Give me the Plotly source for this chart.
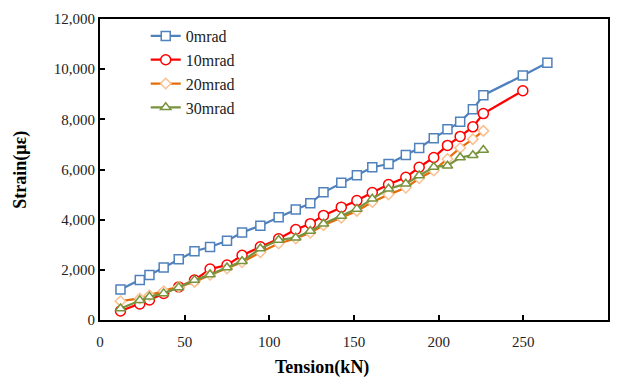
import plotly.graph_objects as go

tension = [12.1, 23.5, 29.2, 37.6, 46.5, 55.8, 65.0, 75.0, 83.9, 94.7, 105.5, 115.6, 124.2,
           132.0, 142.5, 151.7, 160.8, 170.4, 180.6, 188.5, 197.1, 205.2, 212.7, 220.2, 226.4]

tension_0 = tension + [249.7, 264.2]
strain_0 = [1220, 1590, 1790, 2090, 2420, 2740, 2910, 3160, 3490, 3760, 4100, 4410, 4650,
            5090, 5470, 5770, 6090, 6220, 6580, 6860, 7250, 7600, 7900, 8400, 8960, 9750, 10260]

tension_10 = tension + [249.7]
strain_10 = [360, 640, 800, 1060, 1320, 1590, 2030, 2190, 2580, 2920, 3240, 3610, 3840,
             4170, 4500, 4760, 5080, 5400, 5690, 6090, 6480, 6960, 7320, 7700, 8230, 9140]

tension_20 = tension
strain_20 = [750, 860, 990, 1150, 1320, 1520, 1800, 2050, 2300, 2700, 3050, 3250, 3480,
             3780, 4080, 4350, 4700, 5000, 5270, 5650, 5960, 6420, 6860, 7210, 7540]

tension_30 = tension
strain_30 = [460, 790, 925, 1060, 1300, 1590, 1810, 2090, 2340, 2850, 3190, 3280, 3550,
             3840, 4150, 4430, 4830, 5230, 5430, 5760, 6100, 6150, 6480, 6570, 6780]

names = ["0mrad", "10mrad", "20mrad", "30mrad"]
x_title = "Tension(kN)"
y_title = "Strain(με)"

FONT = "Liberation Serif"

fig = go.Figure()

series = [
    (tension_0, strain_0, names[0], "#4F81BD", "square", "#4F81BD", 9),
    (tension_10, strain_10, names[1], "#FF0000", "circle", "#FF0000", 10),
    (tension_20, strain_20, names[2], "#E46C0A", "diamond", "#FAC090", 8),
    (tension_30, strain_30, names[3], "#77933C", "triangle-up", "#77933C", 9),
]

for i, (xs, ys, nm, lc, sym, mc, ms) in enumerate(series):
    fig.add_trace(go.Scatter(
        x=xs, y=ys, name=nm, mode="lines+markers",
        line=dict(color=lc, width=2.25),
        marker=dict(symbol=sym, size=ms, color="white", line=dict(color=mc, width=1.5)),
        legendgroup=f"g{i}",
    ))

axis_common = dict(
    showline=True, linecolor="black", linewidth=2, mirror=True,
    ticks="inside", ticklen=5, tickwidth=1.5, tickcolor="black",
    showgrid=False, zeroline=False,
    tickfont=dict(family=FONT, size=15, color="#222"),
)

fig.update_xaxes(range=[0, 300], dtick=50, tick0=0, ticklabelstandoff=7, **axis_common)
fig.update_yaxes(range=[0, 12000], dtick=2000, tick0=0, tickformat=",", **axis_common)

fig.add_annotation(text=f"<b>{x_title}</b>", xref="paper", yref="paper", x=0.437, y=-0.158,
                   yanchor="middle", xanchor="center", showarrow=False,
                   font=dict(family=FONT, size=18, color="black"))
fig.add_annotation(text=f"<b>{y_title}</b>", xref="paper", yref="paper", x=-0.157, y=0.5,
                   yanchor="middle", xanchor="center", showarrow=False, textangle=-90,
                   font=dict(family=FONT, size=18, color="black"))

fig.update_layout(
    width=619, height=378,
    margin=dict(l=100, r=11, t=19, b=58, autoexpand=False),
    plot_bgcolor="white", paper_bgcolor="white",
    showlegend=True,
    legend=dict(x=0.09, y=1.0, xanchor="left", yanchor="top",
                font=dict(family=FONT, size=16, color="#222"),
                bgcolor="rgba(0,0,0,0)", tracegroupgap=0, itemwidth=30),
)

fig.write_html("out.html")
